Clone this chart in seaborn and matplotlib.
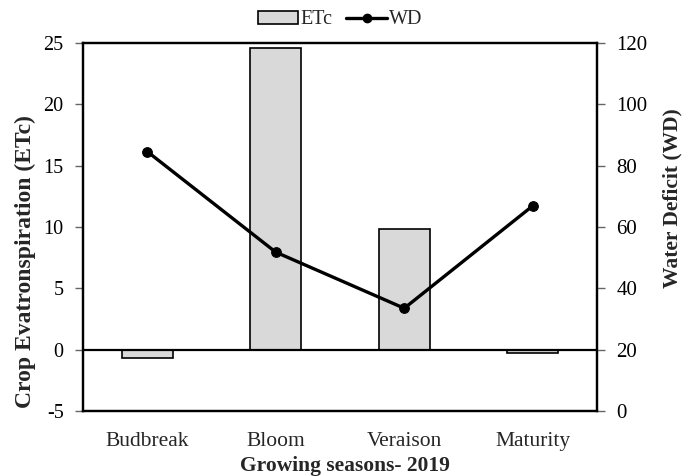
import matplotlib
matplotlib.use("Agg")
import matplotlib.pyplot as plt
import seaborn as sns
import pandas as pd
from matplotlib.patches import Patch
from matplotlib.lines import Line2D

# Data
seasons = ["Budbreak", "Bloom", "Veraison", "Maturity"]
etc_values = [-0.67, 24.56, 9.85, -0.28]
wd_values = [84.6, 51.8, 33.5, 66.9]
etc_ticks = [-5, 0, 5, 10, 15, 20, 25]
wd_ticks = [0, 20, 40, 60, 80, 100, 120]

df = pd.DataFrame({"season": seasons, "ETc": etc_values, "WD": wd_values})

sns.set_theme(style="white")
plt.rcParams["font.family"] = ["Liberation Serif", "DejaVu Serif"]

W, H = 696, 476
fig = plt.figure(figsize=(W / 100, H / 100), dpi=100)
ax = fig.add_axes([83 / W, 1 - 411 / H, (597 - 83) / W, (411 - 43) / H])

sns.barplot(data=df, x="season", y="ETc", order=seasons, color="#d9d9d9",
            edgecolor="black", linewidth=1.2, width=0.4, saturation=1, ax=ax)
ax.axhline(0, color="black", lw=1.6, zorder=3)
ax.set_ylim(-5, 25)
ax.set_xlim(-0.5, 3.5)
ax.set_yticks(etc_ticks)
ax.set_yticklabels([str(t) for t in etc_ticks])

ax2 = ax.twinx()
sns.lineplot(data=df, x="season", y="WD", color="black", lw=2.4, marker="o",
             markersize=7, markeredgecolor="black", ax=ax2, sort=False, zorder=4)
ax2.set_ylim(0, 120)
ax2.set_yticks(wd_ticks)
ax2.set_yticklabels([str(t) for t in wd_ticks])
ax.set_xlim(-0.5, 3.5)

for a in (ax, ax2):
    for s in a.spines.values():
        s.set_color("black")
        s.set_linewidth(1.6)

ax.tick_params(axis="y", left=True, direction="out", length=5.5, width=1,
               color="#666666", labelcolor="black", labelsize=14.5, pad=8.5)
ax.tick_params(axis="x", bottom=False, labelsize=15.5, pad=9)
ax2.tick_params(axis="y", right=True, direction="out", length=5.5, width=1,
                color="#666666", labelcolor="black", labelsize=15, pad=8.5)

ax.set_xlabel("Growing seasons- 2019", fontsize=15.5, fontweight="bold")
ax.xaxis.set_label_coords((345 - 83) / 514, (411 - 466) / 368)
ax.xaxis.label.set(va="center", ha="center")

ax.set_ylabel("Crop Evatronspiration (ETc)", fontsize=17, fontweight="bold")
ax.yaxis.set_label_coords((25 - 83) / 514, (411 - 262) / 368)
ax.yaxis.label.set(va="center", ha="center", rotation_mode="anchor")

ax2.set_ylabel("Water Deficit (WD)", fontsize=15.5, fontweight="bold")
ax2.yaxis.set_label_coords((672 - 83) / 514, (411 - 198.5) / 368)
ax2.yaxis.label.set(va="center", ha="center", rotation_mode="anchor", rotation=90)

handles = [Patch(facecolor="#d9d9d9", edgecolor="black", linewidth=1.2),
           Line2D([0], [0], color="black", lw=2.4, marker="o", markersize=6)]
fig.legend(handles, ["ETc", "WD"], loc="center", bbox_to_anchor=(340 / W, 1 - 20 / H),
           ncol=2, frameon=False, fontsize=14.5, handlelength=2.0, handleheight=0.6,
           handletextpad=0.1, columnspacing=0.7, borderpad=0.1)

fig.savefig("out.png", dpi=100)
